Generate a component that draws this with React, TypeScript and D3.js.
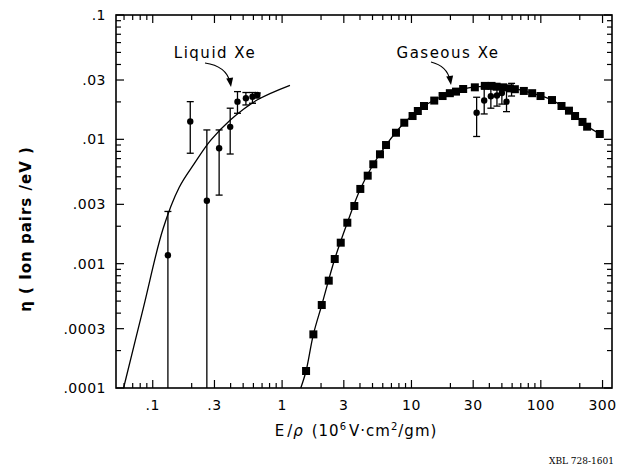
import React from 'react';
import * as d3 from 'd3';

const W = 624;
const H = 470;
const PL = 116, PR = 612, PT = 15, PB = 388;

const xTickValues = [0.1, 0.3, 1, 3, 10, 30, 100, 300];
const xTickLabels = ['.1', '.3', '1', '3', '10', '30', '100', '300'];
const yTickValues = [0.1, 0.03, 0.01, 0.003, 0.001, 0.0003, 0.0001];
const yTickLabels = ['.1', '.03', '.01', '.003', '.001', '.0003', '.0001'];

// Liquid Xe theoretical curve
const liquidCurveX = [0.0595, 0.085, 0.12, 0.16, 0.21, 0.28, 0.4, 0.64, 1.15];
const liquidCurveY = [0.0001, 0.00045, 0.0019, 0.0041, 0.0064, 0.0098, 0.0144, 0.0207, 0.0272];

// Liquid Xe measurements
const liquidX = [0.131, 0.195, 0.262, 0.326, 0.397, 0.452, 0.525, 0.59, 0.644];
const liquidY = [0.00117, 0.0139, 0.00321, 0.00848, 0.0126, 0.0201, 0.0214, 0.022, 0.0227];
const liquidHi = [0.00263, 0.0201, 0.0119, 0.0119, 0.0178, 0.0242, 0.0238, 0.0238, 0.0236];
const liquidLo = [0.0001, 0.00773, 0.0001, 0.00356, 0.00762, 0.0162, 0.0189, 0.0195, 0.0215];

// Gaseous Xe (squares)
const gasX = [1.532, 1.745, 2.026, 2.294, 2.552, 2.84, 3.193, 3.617, 4.024, 4.589, 5.07, 5.71, 6.36, 7.59, 8.8, 10.2, 11.2, 12.5, 15.0, 17.4, 19.8, 22.1, 25.1, 30.9, 36.9, 41.6, 45.5, 51.2, 57.7, 63, 73.9, 85.7, 99.5, 122, 144.5, 165, 184, 210, 228, 285.5];
const gasY = [0.000137, 0.00027, 0.000465, 0.00073, 0.00109, 0.001475, 0.002135, 0.00291, 0.00399, 0.0051, 0.0063, 0.00758, 0.009, 0.0113, 0.0136, 0.0154, 0.0169, 0.01854, 0.0205, 0.0223, 0.0235, 0.0242, 0.0254, 0.0262, 0.0269, 0.0269, 0.0265, 0.0262, 0.0257, 0.0253, 0.0245, 0.0235, 0.0223, 0.0207, 0.01854, 0.017, 0.0154, 0.0138, 0.01264, 0.01104];

// Gaseous Xe fitted curve
const gasCurveX = [1.394, 1.532, 1.745, 2.026, 2.552, 3.193, 4.024, 5.07, 6.36, 8.8, 12.5, 17.4, 25.1, 35, 45, 60, 85.7, 122, 165, 228, 285.5];
const gasCurveY = [0.0001, 0.000137, 0.00027, 0.000465, 0.00109, 0.002135, 0.00399, 0.0063, 0.009, 0.0136, 0.01854, 0.0223, 0.0254, 0.0267, 0.0268, 0.0258, 0.0235, 0.0207, 0.017, 0.0128, 0.01104];

// Gaseous Xe measurements (circles with error bars)
const gasPtX = [31.9, 36.5, 41.1, 45.8, 50, 54.3, 59.4];
const gasPtY = [0.01637, 0.0205, 0.0222, 0.0225, 0.0236, 0.0201, 0.0254];
const gasPtHi = [0.0218, 0.0259, 0.0264, 0.0264, 0.0264, 0.0253, 0.0282];
const gasPtLo = [0.01054, 0.016, 0.0178, 0.0185, 0.0192, 0.0167, 0.0223];

const FONT = '"DejaVu Sans", "Liberation Sans", sans-serif';

function logTicks(lo: number, hi: number) {
  const out: { v: number; major: boolean }[] = [];
  for (let e = -5; e <= 3; e++) {
    for (let m = 1; m <= 9; m++) {
      const v = m * Math.pow(10, e);
      if (v >= lo * 0.999 && v <= hi * 1.001) out.push({ v, major: m === 1 || m === 3 });
    }
  }
  return out;
}

export default function App() {
  const x = d3.scaleLog().domain([0.052, 355]).range([PL, PR]);
  const y = d3.scaleLog().domain([0.0001, 0.1]).range([PB, PT]);

  const line = d3
    .line<[number, number]>()
    .x((d) => x(d[0]))
    .y((d) => y(d[1]))
    .curve(d3.curveCatmullRom.alpha(0.5));

  const liqPath = line(liquidCurveX.map((v, i) => [v, liquidCurveY[i]] as [number, number])) || '';
  const gasPath = line(gasCurveX.map((v, i) => [v, gasCurveY[i]] as [number, number])) || '';

  const xt = logTicks(0.052, 355);
  const yt = logTicks(0.0001, 0.1);
  const cap = 3.5;
  const yMin = 0.0001;

  const errBar = (xv: number, yv: number, lo: number, hi: number, key: string) => {
    const cx = x(xv);
    return (
      <g key={key}>
        <line x1={cx} x2={cx} y1={y(hi)} y2={y(lo)} stroke="#000" strokeWidth={1.3} />
        <line x1={cx - cap} x2={cx + cap} y1={y(hi)} y2={y(hi)} stroke="#000" strokeWidth={1.3} />
        {lo > yMin * 1.01 && (
          <line x1={cx - cap} x2={cx + cap} y1={y(lo)} y2={y(lo)} stroke="#000" strokeWidth={1.3} />
        )}
        <circle cx={cx} cy={y(yv)} r={3.2} fill="#000" />
      </g>
    );
  };

  const arrowHead = (tx: number, ty: number, fx: number, fy: number) => {
    const a = Math.atan2(ty - fy, tx - fx);
    const L = 9, Wd = 3.5;
    const bx = tx - L * Math.cos(a), by = ty - L * Math.sin(a);
    const px = -Math.sin(a) * Wd, py = Math.cos(a) * Wd;
    return `M${tx},${ty}L${bx + px},${by + py}L${bx - px},${by - py}Z`;
  };

  return (
    <div style={{ position: 'absolute', left: 0, top: 0 }}>
      <svg width={W} height={H} viewBox={`0 0 ${W} ${H}`} style={{ display: 'block', background: '#fff' }}>
        <rect x={0} y={0} width={W} height={H} fill="#fff" />
        {/* ticks */}
        {xt.map((t, i) => {
          const px = x(t.v);
          const len = t.major ? 8 : 5;
          return (
            <g key={'xt' + i}>
              <line x1={px} x2={px} y1={PB} y2={PB - len} stroke="#000" strokeWidth={1.2} />
              <line x1={px} x2={px} y1={PT} y2={PT + len} stroke="#000" strokeWidth={1.2} />
            </g>
          );
        })}
        {yt.map((t, i) => {
          const py = y(t.v);
          const len = t.major ? 8 : 5;
          return (
            <g key={'yt' + i}>
              <line x1={PL} x2={PL + len} y1={py} y2={py} stroke="#000" strokeWidth={1.2} />
              <line x1={PR} x2={PR - len} y1={py} y2={py} stroke="#000" strokeWidth={1.2} />
            </g>
          );
        })}
        <rect x={PL} y={PT} width={PR - PL} height={PB - PT} fill="none" stroke="#000" strokeWidth={1.6} />

        {/* tick labels */}
        {xTickValues.map((v, i) => (
          <text key={'xl' + i} x={x(v)} y={410} textAnchor="middle" fontFamily={FONT} fontSize={14} letterSpacing={0.5}>
            {xTickLabels[i]}
          </text>
        ))}
        {yTickValues.map((v, i) => (
          <text key={'yl' + i} x={106} y={y(v)} dy="0.36em" textAnchor="end" fontFamily={FONT} fontSize={14} letterSpacing={0.5}>
            {yTickLabels[i]}
          </text>
        ))}

        {/* curves */}
        <path d={liqPath} fill="none" stroke="#000" strokeWidth={1.3} />
        <path d={gasPath} fill="none" stroke="#000" strokeWidth={1.3} />

        {/* liquid data */}
        {liquidX.map((v, i) => errBar(v, liquidY[i], liquidLo[i], liquidHi[i], 'l' + i))}

        {/* gas data circles */}
        {gasPtX.map((v, i) => errBar(v, gasPtY[i], gasPtLo[i], gasPtHi[i], 'g' + i))}

        {/* gas squares */}
        {gasX.map((v, i) => (
          <rect key={'s' + i} x={x(v) - 4} y={y(gasY[i]) - 4} width={8} height={8} fill="#000" />
        ))}

        {/* annotations */}
        <text x={215} y={58} textAnchor="middle" fontFamily={FONT} fontSize={15} letterSpacing={1.5}>
          Liquid Xe
        </text>
        <path d="M205,63 Q226,66 230,82" fill="none" stroke="#000" strokeWidth={1.2} />
        <path d={arrowHead(231, 87, 229.5, 77)} fill="#000" />
        <text x={448} y={58} textAnchor="middle" fontFamily={FONT} fontSize={15} letterSpacing={1.5}>
          Gaseous Xe
        </text>
        <path d="M431,62 Q447,66 450,80" fill="none" stroke="#000" strokeWidth={1.2} />
        <path d={arrowHead(451, 85, 449.5, 75)} fill="#000" />

        {/* axis titles */}
        <text x={356} y={436} textAnchor="middle" fontFamily={FONT} fontSize={15} letterSpacing={1}>
          <tspan>E</tspan>
          <tspan dx={2}>/</tspan>
          <tspan fontStyle="italic">ρ</tspan>
          <tspan dx={8}>(10</tspan>
          <tspan dy={-6} fontSize={10}>6</tspan>
          <tspan dy={6} dx={2}>V·cm</tspan>
          <tspan dy={-6} fontSize={10}>2</tspan>
          <tspan dy={6}>/gm)</tspan>
        </text>
        <text
          transform={`translate(31,229) rotate(-90)`}
          textAnchor="middle"
          fontFamily={FONT}
          fontSize={15}
          fontWeight="bold"
          letterSpacing={1}
        >
          η ( Ion pairs /eV )
        </text>
        <text x={614} y={464} textAnchor="end" fontFamily='"DejaVu Serif", "Liberation Serif", serif' fontSize={9}>
          XBL 728-1601
        </text>
      </svg>
    </div>
  );
}
